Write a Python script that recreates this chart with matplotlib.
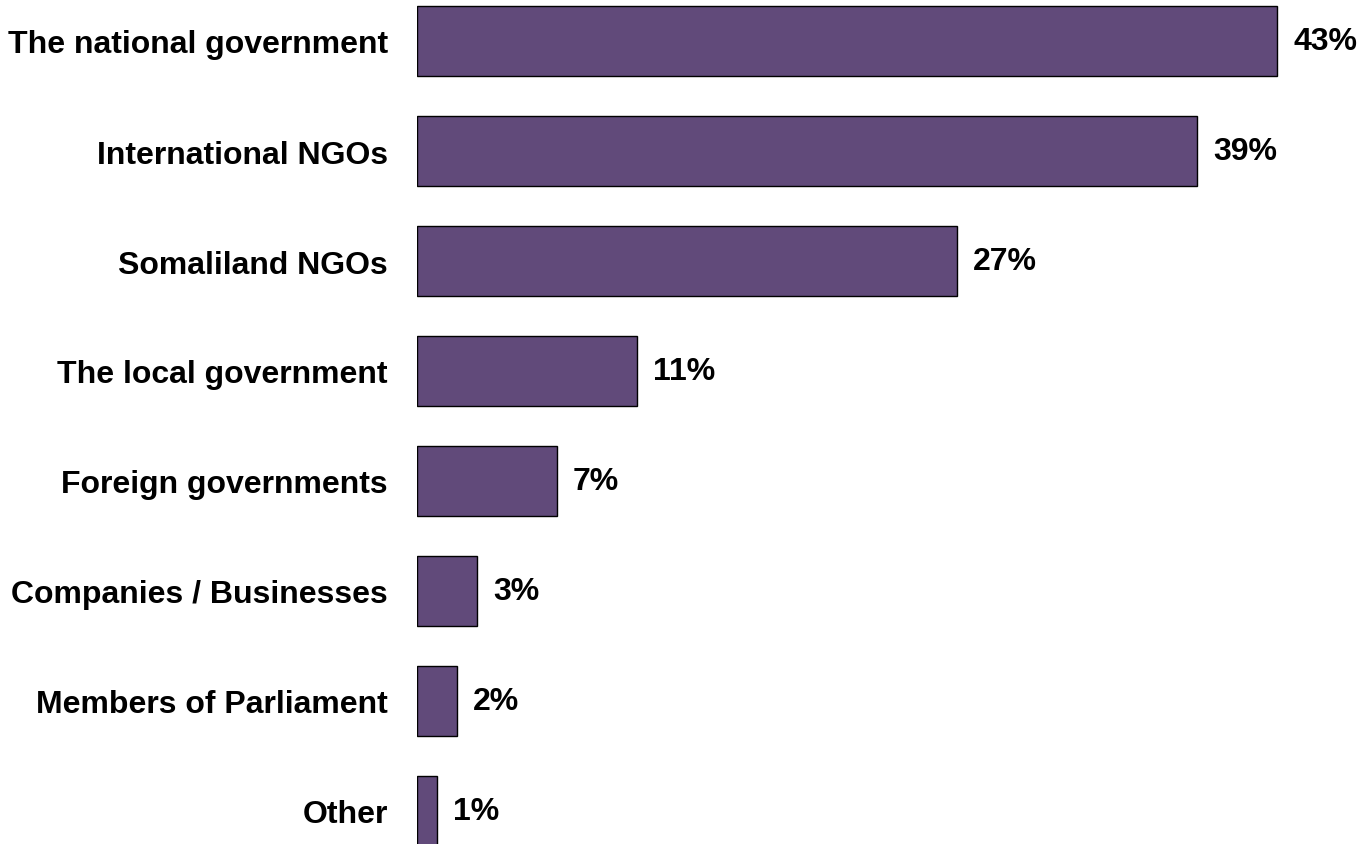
import matplotlib
matplotlib.use("Agg")

import matplotlib.pyplot as plt

categories = [
    "The national government",
    "International NGOs",
    "Somaliland NGOs",
    "The local government",
    "Foreign governments",
    "Companies / Businesses",
    "Members of Parliament",
    "Other",
]
values = [43, 39, 27, 11, 7, 3, 2, 1]

plt.rcParams["font.family"] = ["Liberation Sans", "DejaVu Sans"]

fig = plt.figure(figsize=(13.65, 8.45), dpi=100)
ax = fig.add_axes([417 / 1365, 0, (1365 - 417) / 1365, 1])

pos = list(range(len(categories)))
ax.barh(pos, values, height=70 / 110, color="#614A7A",
        edgecolor="black", linewidth=1)

ax.set_xlim(0, (1365 - 417) / 20)
ax.set_ylim((845 - 42) / 110, -42 / 110)

# value labels just past the end of each bar
for y, v in zip(pos, values):
    ax.text(v + 0.8, y, f"{v}%", va="center", ha="left",
            fontsize=23, fontweight="bold")

ax.set_yticks(pos)
ax.set_yticklabels(categories, fontsize=23, fontweight="bold")
ax.tick_params(axis="y", length=0, pad=21)
ax.set_xticks([])
for s in ax.spines.values():
    s.set_visible(False)

fig.savefig("out.png", dpi=100)
